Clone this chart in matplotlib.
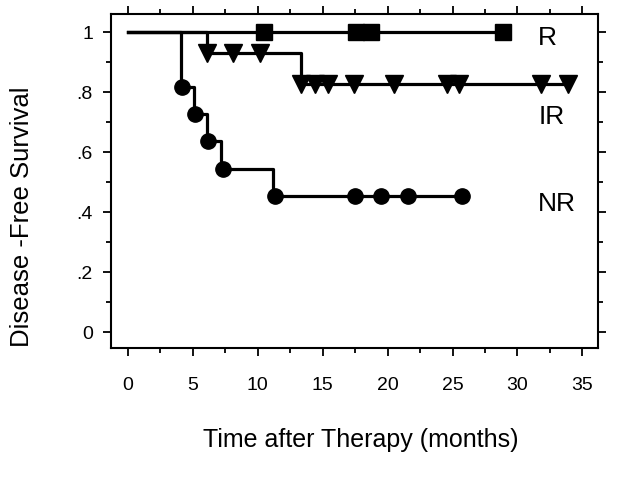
import matplotlib
matplotlib.use("Agg")
import matplotlib.pyplot as plt
from matplotlib.ticker import MultipleLocator, FuncFormatter

plt.rcParams['font.family'] = ['Liberation Sans', 'DejaVu Sans']

# Kaplan-Meier step data (time in months, survival)
r_steps_t = [0, 28.9]
r_steps_s = [1.0, 1.0]
r_marks_t = [10.5, 17.6, 18.7, 28.9]
r_marks_s = [1.0, 1.0, 1.0, 1.0]

ir_steps_t = [0, 6.1, 13.3, 33.9]
ir_steps_s = [1.0, 0.929, 0.826, 0.826]
ir_marks_t = [6.1, 8.1, 10.2, 13.35, 14.4, 15.4, 17.4, 20.5, 24.6, 25.5, 31.8, 33.9]
ir_marks_s = [0.929, 0.929, 0.929, 0.826, 0.826, 0.826, 0.826, 0.826, 0.826, 0.826, 0.826, 0.826]

nr_steps_t = [0, 4.1, 5.1, 6.1, 7.2, 11.2, 25.7]
nr_steps_s = [1.0, 0.818, 0.727, 0.636, 0.545, 0.4545, 0.4545]
nr_marks_t = [4.2, 5.2, 6.2, 7.3, 11.3, 17.5, 19.5, 21.6, 25.7]
nr_marks_s = [0.818, 0.727, 0.636, 0.545, 0.4545, 0.4545, 0.4545, 0.4545, 0.4545]

group_labels = ['R', 'IR', 'NR']
label_y = [0.98, 0.717, 0.427]

fig = plt.figure(figsize=(6.29, 4.87), dpi=100)
ax = fig.add_axes([111/629, 1 - 348/487, (598-111)/629, (348-14)/487])

lw = 2.3
ax.step(r_steps_t, r_steps_s, where='post', color='black', lw=lw)
ax.step(ir_steps_t, ir_steps_s, where='post', color='black', lw=lw)
ax.step(nr_steps_t, nr_steps_s, where='post', color='black', lw=lw)

ax.plot(r_marks_t, r_marks_s, 's', color='black', ms=11.5, ls='none')
ax.plot(ir_marks_t, ir_marks_s, 'v', color='black', ms=12.5, ls='none')
ax.plot(nr_marks_t, nr_marks_s, 'o', color='black', ms=11, ls='none')

for lab, y in zip(group_labels, label_y):
    ax.text(31.6, y, lab, fontsize=19, ha='left', va='center')

ax.set_xlim(-1.3, 36.2)
ax.set_ylim(-0.053, 1.06)

ax.xaxis.set_major_locator(MultipleLocator(5))
ax.xaxis.set_minor_locator(MultipleLocator(2.5))
ax.yaxis.set_major_locator(MultipleLocator(0.2))
ax.yaxis.set_minor_locator(MultipleLocator(0.1))

def yfmt(v, pos):
    if abs(v) < 1e-9:
        return '0'
    if abs(v - 1) < 1e-9:
        return '1'
    return ('%.1f' % v).lstrip('0')

ax.yaxis.set_major_formatter(FuncFormatter(yfmt))

ax.tick_params(which='both', direction='out', top=True, right=True, width=1.3, labelsize=14)
ax.tick_params(which='major', length=6)
ax.tick_params(which='minor', length=3.5)
ax.tick_params(axis='x', which='major', pad=15)
ax.tick_params(axis='y', which='major', pad=7)

for s in ax.spines.values():
    s.set_linewidth(1.5)

fig.text(361/629, 1 - 440/487, 'Time after Therapy (months)', fontsize=18, ha='center', va='center')
fig.text(22/629, 1 - 217/487, 'Disease -Free Survival', fontsize=18.5, ha='center', va='center', rotation=90)

fig.savefig('out.png', dpi=100)
